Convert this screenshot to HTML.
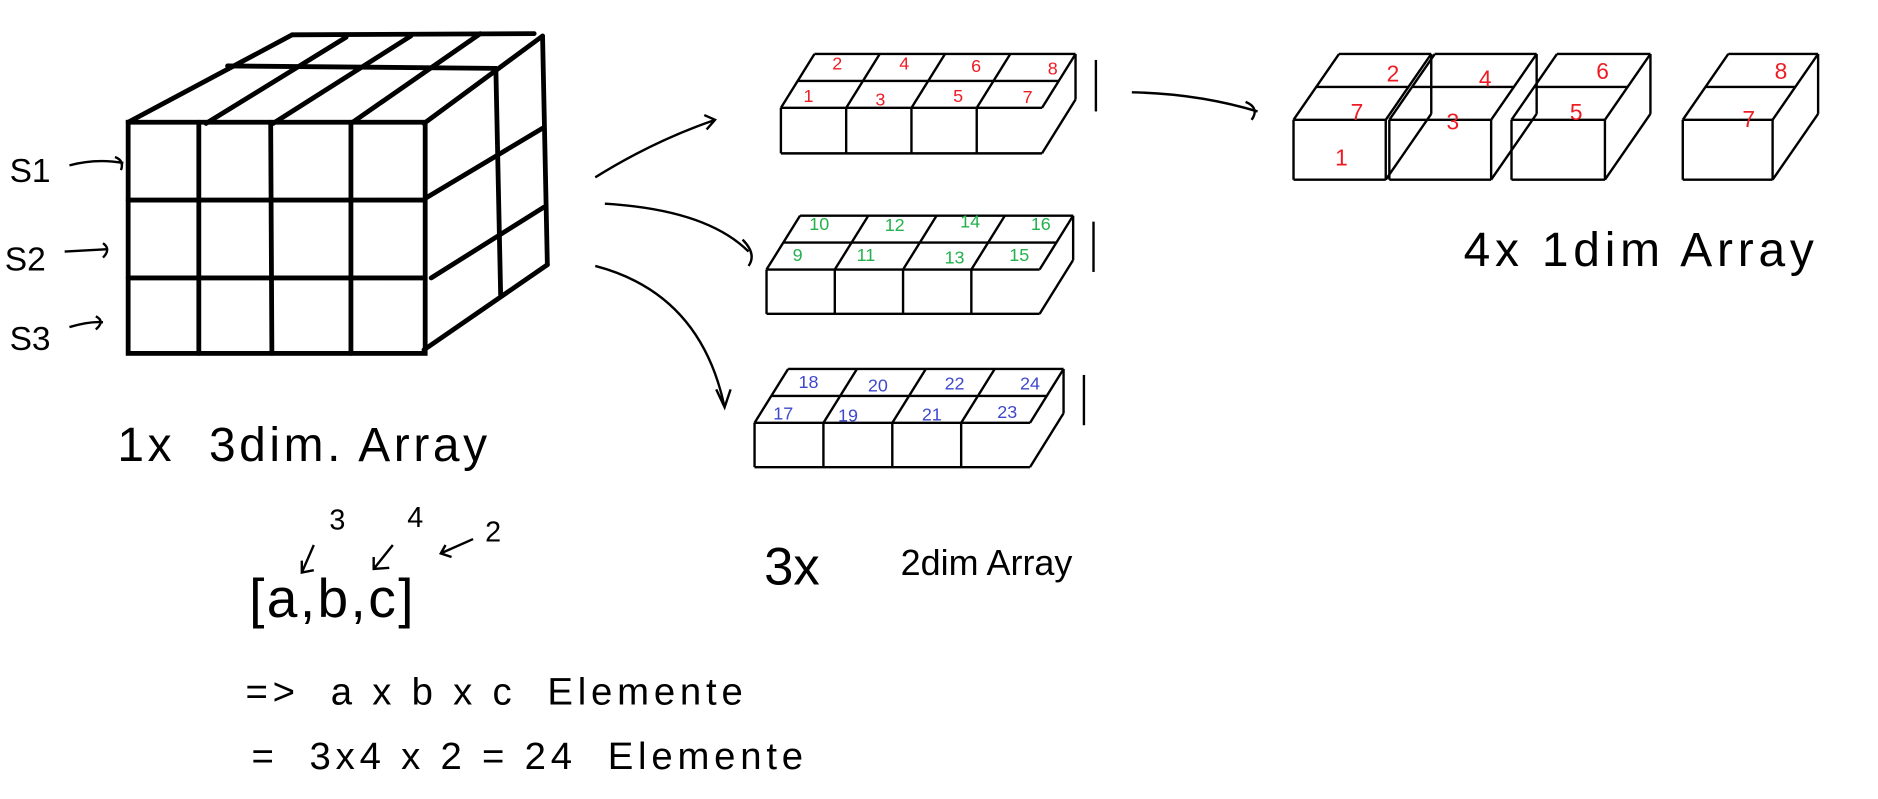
<!DOCTYPE html>
<html><head><meta charset="utf-8">
<style>
html,body{margin:0;padding:0;background:#fff;}
svg{display:block;}
text{font-family:"Liberation Sans",sans-serif;}
.hw{font-weight:normal;fill:#000;}
</style></head>
<body>
<svg width="1878" height="799" viewBox="0 0 1568 667" xmlns="http://www.w3.org/2000/svg">
<rect width="1568" height="667" fill="#fff"/>
<g stroke="#000" stroke-width="4" fill="none" stroke-linecap="round">
  <rect x="107" y="102" width="248" height="193"/>
  <line x1="107" y1="167" x2="355" y2="167"/>
  <line x1="107" y1="232" x2="355" y2="232"/>
  <line x1="166" y1="102" x2="166" y2="295"/>
  <line x1="226" y1="102" x2="227" y2="295"/>
  <line x1="293" y1="102" x2="293" y2="295"/>
  <line x1="107" y1="102" x2="244" y2="29"/>
  <line x1="244" y1="29" x2="446" y2="28"/>
  <line x1="190" y1="55" x2="414" y2="57"/>
  <line x1="172" y1="103" x2="289" y2="31"/>
  <line x1="228" y1="103" x2="343" y2="30"/>
  <line x1="293" y1="103" x2="401" y2="28"/>
  <line x1="354" y1="103" x2="453" y2="30"/>
  <line x1="453" y1="30" x2="457" y2="221"/>
  <line x1="414" y1="57" x2="418" y2="246"/>
  <line x1="354" y1="292" x2="457" y2="221"/>
  <line x1="356" y1="165" x2="453" y2="107"/>
  <line x1="360" y1="232" x2="454" y2="173"/>
</g>
<g stroke="#000" stroke-width="2" fill="none">
  <path d="M58 138 Q80 132 103 136 M96 131 Q104 134 101 142"/>
  <path d="M54 210 L90 208 M86 203 Q93 208 86 215"/>
  <path d="M58 273 Q75 268 86 269 M80 264 Q88 268 80 275"/>
</g>
<text class="hw" x="8" y="152" font-size="28">S1</text>
<text class="hw" x="4" y="226" font-size="28">S2</text>
<text class="hw" x="8" y="292" font-size="28">S3</text>
<text class="hw" x="98" y="385" font-size="40" letter-spacing="3">1x&#160;&#160;3dim. Array</text>

<g stroke="#000" stroke-width="2" fill="none">
  <path d="M262 455 L252 478 M252 468 L252 478 L262 476"/>
  <path d="M328 455 L312 475 M312 465 L312 475 L325 474"/>
  <path d="M395 450 L368 462 M372 455 L368 462 L377 465"/>
</g>
<text class="hw" x="275" y="442" font-size="24">3</text>
<text class="hw" x="340" y="440" font-size="24">4</text>
<text class="hw" x="405" y="452" font-size="24">2</text>
<text class="hw" x="208" y="515" font-size="46" letter-spacing="2">[a,b,c]</text>
<text class="hw" x="205" y="588" font-size="32" letter-spacing="4">=&gt;&#160;&#160;a x b x c&#160;&#160;Elemente</text>
<text class="hw" x="210" y="642" font-size="32" letter-spacing="4">=&#160;&#160;3x4 x 2 = 24&#160;&#160;Elemente</text>

<g stroke="#000" stroke-width="2" fill="none">
  <path d="M497 148 Q545 118 597 100 M588 96 L597 100 L590 108"/>
  <path d="M505 170 Q590 175 625 210 M620 200 Q632 212 625 222"/>
  <path d="M497 222 Q585 245 605 340 M598 325 L605 340 L610 325"/>
  <path d="M945 77 Q1000 78 1050 93 M1040 85 Q1052 90 1045 100"/>
</g>

<g id="boxes2d" stroke="#000" stroke-width="2" fill="none"></g>
<g id="boxes1d" stroke="#000" stroke-width="2" fill="none"></g>
<g id="nums"></g>

<text class="hw" x="638" y="488" font-size="44">3x</text>
<text class="hw" x="752" y="480" font-size="30">2dim Array</text>
<text class="hw" x="1222" y="222" font-size="40" letter-spacing="4">4x 1dim Array</text>

<script>
const NS='http://www.w3.org/2000/svg';
const boxes2d=[[652,90,218,38],[640,225,228,37],[630,353,230,37]];
const boxes1d=[[1080,100,77],[1160,100,85],[1262,100,78],[1405,100,75]];
const nums2d=[
 [['2',699,58],['4',755,58],['6',815,60],['8',879,62],['1',675,85],['3',735,88],['5',800,85],['7',858,86]],
 [['10',684,192],['12',747,193],['14',810,190],['16',869,192],['9',666,218],['11',723,218],['13',797,220],['15',851,218]],
 [['18',675,324],['20',733,327],['22',797,325],['24',860,325],['17',654,350],['19',708,352],['21',778,351],['23',841,349]]
];
const colors=['#ed1c24','#22b14c','#3f48cc'];
const nums1d=[['2',1163,68],['4',1240,72],['6',1338,66],['8',1487,66],['7',1133,100],['3',1213,108],['5',1316,100],['7',1460,106],['1',1120,138]];
function ln(g,x1,y1,x2,y2){const l=document.createElementNS(NS,'line');
l.setAttribute('x1',x1);l.setAttribute('y1',y1);l.setAttribute('x2',x2);l.setAttribute('y2',y2);


g.appendChild(l);}
const g2=document.getElementById('boxes2d');
boxes2d.forEach(b=>{const [x,y,w,h]=b;const dx=28,dy=45;
 ln(g2,x,y,x+w,y);ln(g2,x,y+h,x+w,y+h);ln(g2,x,y,x,y+h);
 ln(g2,x+dx,y-dy,x+w+dx,y-dy);ln(g2,x+dx/2,y-dy/2,x+w+dx/2,y-dy/2);
 for(let i=0;i<=4;i++){const xx=x+w*i/4;ln(g2,xx,y,xx+dx,y-dy);}
 for(let i=1;i<4;i++){const xx=x+w*i/4;ln(g2,xx,y,xx,y+h);}
 ln(g2,x+w+dx,y-dy,x+w+dx,y-dy+h);ln(g2,x+w,y+h,x+w+dx,y-dy+h);
 ln(g2,x+w+dx+17,y-dy+5,x+w+dx+17,y-dy+h+10);
});
const g1=document.getElementById('boxes1d');
boxes1d.forEach(b=>{const [x,y,w]=b;const h=50,dx=38,dy=55;
 ln(g1,x,y,x+w,y);ln(g1,x,y+h,x+w,y+h);ln(g1,x,y,x,y+h);
 ln(g1,x+dx,y-dy,x+w+dx,y-dy);ln(g1,x+dx/2,y-dy/2,x+w+dx/2,y-dy/2);
 ln(g1,x,y,x+dx,y-dy);ln(g1,x+w,y,x+w+dx,y-dy);
 ln(g1,x+w,y,x+w,y+h);ln(g1,x+w+dx,y-dy,x+w+dx,y-dy+h);ln(g1,x+w,y+h,x+w+dx,y-dy+h);
});
const gn=document.getElementById('nums');
function tx(s,x,y,c,fs){const t=document.createElementNS(NS,'text');
t.setAttribute('x',x);t.setAttribute('y',y);t.setAttribute('fill',c);t.setAttribute('font-size',fs);
t.setAttribute('text-anchor','middle');t.textContent=s;


gn.appendChild(t);}
nums2d.forEach((arr,i)=>arr.forEach(n=>tx(n[0],n[1],n[2],colors[i],15)));
nums1d.forEach(n=>tx(n[0],n[1],n[2],colors[0],19));
</script>
</svg>
</body></html>
